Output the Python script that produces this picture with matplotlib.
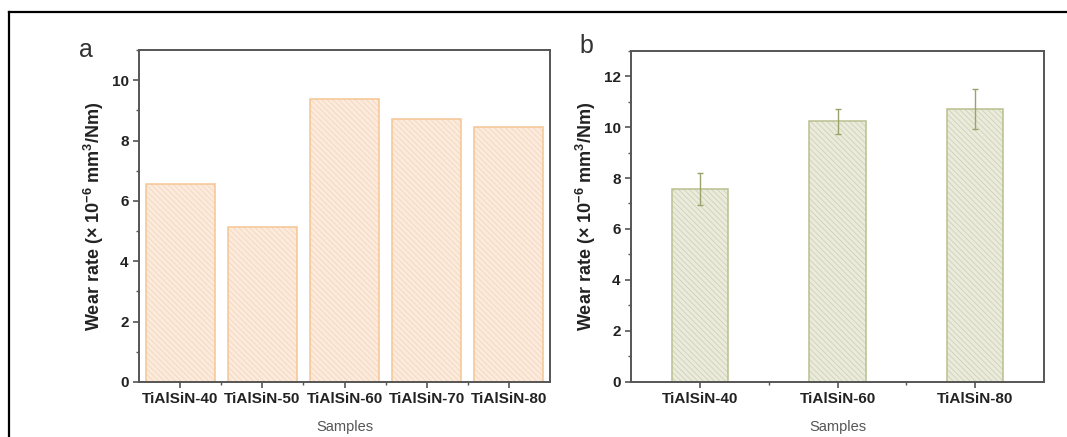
import matplotlib
matplotlib.use("Agg")
import matplotlib.pyplot as plt
from matplotlib.lines import Line2D
from matplotlib.ticker import MultipleLocator, FixedLocator

plt.rcParams['font.family'] = ['Liberation Sans', 'DejaVu Sans']
plt.rcParams['mathtext.fontset'] = 'custom'
plt.rcParams['mathtext.rm'] = 'Liberation Sans:bold'
plt.rcParams['mathtext.it'] = 'Liberation Sans:bold'
plt.rcParams['mathtext.bf'] = 'Liberation Sans:bold'
plt.rcParams['hatch.linewidth'] = 0.5

# Panel a data
cats_a = ["TiAlSiN-40", "TiAlSiN-50", "TiAlSiN-60", "TiAlSiN-70", "TiAlSiN-80"]
vals_a = [6.55, 5.12, 9.36, 8.72, 8.45]

# Panel b data
cats_b = ["TiAlSiN-40", "TiAlSiN-60", "TiAlSiN-80"]
vals_b = [7.57, 10.22, 10.71]
errs_b = [0.62, 0.50, 0.78]

fig = plt.figure(figsize=(10.67, 4.37), dpi=100)

ylabel = r"Wear rate (× 10$^{-6}$ mm$^{3}$/Nm)"
spine_col = "#555555"

def style_axes(ax):
    for s in ax.spines.values():
        s.set_color(spine_col)
        s.set_linewidth(1.4)
    ax.tick_params(axis='both', which='major', direction='out', length=4, width=1.2,
                   color=spine_col, labelsize=11)
    ax.tick_params(axis='both', which='minor', direction='out', length=2, width=1.0,
                   color=spine_col)
    for lab in ax.get_xticklabels() + ax.get_yticklabels():
        lab.set_fontweight('bold')
        lab.set_color('#222222')
    ax.set_xlabel("Samples", fontsize=10.5, color='#555555', labelpad=10)
    ax.set_ylabel(ylabel, fontsize=13, fontweight='bold', color='#222222', labelpad=4)

def hatched_bars(ax, x, h, width, face, hatchc, edge):
    ax.bar(x, h, width=width, color=face, edgecolor=hatchc, hatch='\\\\\\\\\\\\',
           linewidth=0)
    ax.bar(x, h, width=width, fill=False, edgecolor=edge, linewidth=1.1)

# Panel a
axa = fig.add_axes([0.1303, 0.1259, 0.3852, 0.7597])
xa = list(range(1, len(cats_a) + 1))
hatched_bars(axa, xa, vals_a, 0.84, '#fcebdc', '#f2d3b8', '#f6c594')
axa.set_xlim(0.5, 5.5)
axa.set_ylim(0, 11)
axa.yaxis.set_major_locator(MultipleLocator(2))
axa.yaxis.set_minor_locator(MultipleLocator(1))
axa.set_xticks(xa)
axa.set_xticklabels(cats_a)
axa.xaxis.set_minor_locator(FixedLocator([1.5, 2.5, 3.5, 4.5]))
style_axes(axa)
fig.text(0.074, 0.885, "a", fontsize=18, color='#333333', va='center')

# Panel b
axb = fig.add_axes([0.5914, 0.1265, 0.3871, 0.7575])
xb = list(range(1, len(cats_b) + 1))
hatched_bars(axb, xb, vals_b, 0.41, '#ebebdc', '#c9cdb0', '#b9c08f')
axb.errorbar(xb, vals_b, yerr=errs_b, fmt='none', ecolor='#9aa36a',
             elinewidth=1.0, capsize=2.5, capthick=1.0)
axb.set_xlim(0.5, 3.5)
axb.set_ylim(0, 13)
axb.yaxis.set_major_locator(MultipleLocator(2))
axb.yaxis.set_minor_locator(MultipleLocator(1))
axb.set_xticks(xb)
axb.set_xticklabels(cats_b)
axb.xaxis.set_minor_locator(FixedLocator([1.5, 2.5]))
style_axes(axb)
fig.text(0.543, 0.895, "b", fontsize=18, color='#333333', va='center')

# Outer frame (top and left lines)
ytop = 1 - 12 / 437
xleft = 9 / 1067
fig.add_artist(Line2D([xleft, 1.0], [ytop, ytop], transform=fig.transFigure,
                      color='black', linewidth=1.6))
fig.add_artist(Line2D([xleft, xleft], [0.0, ytop], transform=fig.transFigure,
                      color='black', linewidth=1.6))

fig.savefig("out.png", dpi=100)
